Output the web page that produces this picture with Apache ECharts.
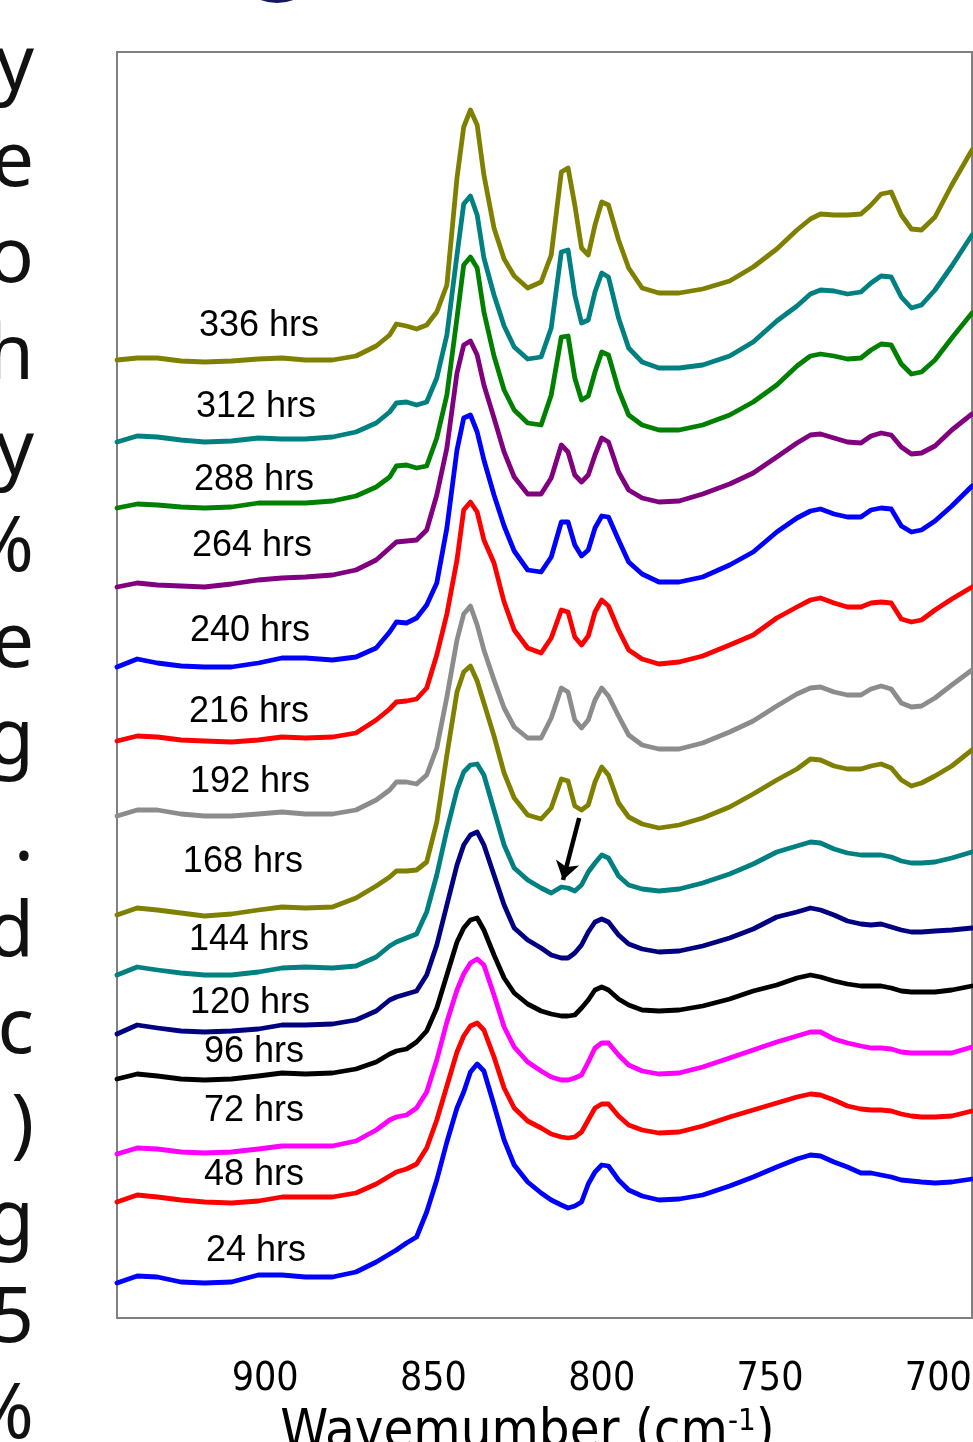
<!DOCTYPE html>
<html>
<head>
<meta charset="utf-8">
<title>IR spectra vs. time</title>
<script src="https://cdn.jsdelivr.net/npm/echarts@6/dist/echarts.min.js"></script>
<style>
  html, body { margin: 0; padding: 0; background: #ffffff; }
  #chart { width: 973px; height: 1442px; }
</style>
</head>
<body>
<div id="chart"></div>
<script>
// Wavenumber grid (cm-1) shared by every spectrum
const WAVENUMBERS = [944, 938, 932, 925, 918, 910, 902, 895, 888, 880,
  873, 867, 863, 861, 858, 855, 852, 849, 846, 843,
  841, 839, 837, 835, 832, 829, 826, 822, 818, 815,
  812, 810, 808, 806, 804, 802, 800, 798, 795, 792,
  788, 783, 777, 770, 762, 755, 748, 742, 738, 735,
  731, 727, 723, 720, 717, 714, 711, 708, 705, 701,
  696, 690];

// Offset absorbance (mAU, stacked) for each exposure time
const h336 = [958, 960, 960, 957, 956, 957, 959, 960, 958, 958, 962, 972, 983, 994, 992, 989, 993, 1006, 1033, 1140, 1191, 1208, 1193, 1143, 1090, 1059, 1042, 1030, 1036, 1063, 1146, 1150, 1113, 1070, 1063, 1093, 1116, 1113, 1078, 1050, 1030, 1025, 1025, 1029, 1037, 1051, 1069, 1088, 1099, 1104, 1103, 1103, 1104, 1113, 1124, 1126, 1103, 1089, 1088, 1101, 1133, 1168];
const h312 = [876, 882, 881, 878, 876, 877, 880, 879, 879, 881, 886, 895, 906, 915, 916, 913, 916, 940, 983, 1063, 1114, 1122, 1103, 1060, 1023, 992, 971, 959, 961, 990, 1066, 1068, 1023, 995, 998, 1026, 1045, 1041, 1000, 970, 956, 950, 950, 953, 962, 976, 997, 1012, 1024, 1028, 1027, 1024, 1026, 1035, 1042, 1041, 1021, 1010, 1013, 1028, 1052, 1083];
const h288 = [810, 814, 813, 811, 810, 811, 815, 815, 815, 817, 822, 831, 841, 852, 853, 850, 852, 880, 923, 1000, 1053, 1061, 1050, 1006, 962, 928, 908, 895, 893, 923, 981, 982, 940, 918, 922, 946, 966, 963, 928, 903, 893, 888, 888, 893, 903, 916, 933, 952, 962, 964, 962, 959, 960, 968, 974, 973, 954, 944, 946, 958, 980, 1005];
const h264 = [731, 735, 733, 732, 731, 734, 738, 740, 741, 743, 748, 758, 770, 776, 777, 778, 788, 823, 870, 945, 973, 977, 963, 933, 900, 866, 841, 824, 824, 840, 873, 866, 843, 836, 843, 863, 880, 876, 846, 828, 820, 816, 817, 824, 834, 845, 861, 875, 883, 884, 880, 876, 875, 882, 885, 883, 871, 864, 865, 872, 888, 904];
const h240 = [651, 659, 655, 652, 651, 651, 655, 660, 660, 658, 661, 670, 686, 696, 695, 700, 713, 735, 790, 868, 900, 903, 886, 858, 823, 792, 767, 748, 746, 761, 796, 796, 773, 762, 768, 790, 802, 801, 778, 756, 744, 736, 736, 741, 753, 766, 786, 800, 807, 809, 804, 801, 801, 808, 810, 809, 792, 786, 788, 797, 812, 832];
const h216 = [577, 582, 581, 578, 577, 576, 578, 581, 580, 581, 585, 598, 609, 616, 617, 619, 630, 663, 704, 758, 808, 816, 806, 778, 755, 716, 688, 670, 665, 680, 708, 706, 681, 673, 682, 706, 718, 712, 688, 668, 659, 654, 656, 662, 673, 683, 700, 711, 718, 720, 715, 711, 711, 715, 716, 715, 699, 696, 698, 708, 719, 731];
const h192 = [502, 508, 508, 504, 502, 502, 504, 506, 504, 504, 508, 518, 528, 536, 536, 534, 543, 570, 621, 678, 704, 712, 693, 668, 638, 610, 591, 580, 580, 600, 630, 626, 598, 590, 598, 618, 630, 622, 602, 583, 573, 569, 569, 575, 586, 597, 612, 624, 630, 631, 626, 623, 623, 629, 632, 629, 615, 611, 612, 620, 633, 648];
const h168 = [403, 410, 408, 405, 402, 404, 408, 411, 410, 411, 420, 432, 441, 447, 447, 448, 456, 496, 563, 626, 646, 652, 637, 615, 582, 545, 520, 503, 499, 510, 539, 537, 512, 508, 513, 536, 551, 543, 515, 501, 494, 490, 493, 500, 511, 524, 538, 549, 559, 558, 552, 549, 549, 552, 554, 550, 538, 532, 535, 542, 552, 568];
const h144 = [343, 351, 348, 345, 343, 343, 346, 350, 351, 350, 352, 361, 372, 376, 380, 384, 406, 443, 488, 528, 546, 553, 554, 543, 508, 473, 450, 438, 430, 425, 431, 430, 427, 433, 446, 455, 463, 460, 442, 433, 429, 427, 429, 435, 444, 454, 466, 472, 476, 475, 469, 465, 463, 463, 463, 461, 457, 455, 455, 456, 460, 466];
const h120 = [284, 293, 290, 287, 286, 287, 289, 293, 293, 294, 298, 307, 318, 321, 324, 327, 343, 373, 413, 453, 473, 483, 486, 473, 443, 413, 390, 378, 370, 363, 360, 360, 365, 373, 386, 396, 399, 396, 383, 374, 369, 366, 367, 372, 380, 389, 401, 406, 410, 408, 403, 397, 394, 393, 394, 391, 388, 386, 386, 387, 388, 390];
const h96 = [239, 244, 242, 239, 238, 239, 242, 245, 244, 245, 249, 256, 264, 267, 269, 276, 287, 310, 343, 376, 390, 398, 400, 388, 363, 340, 325, 314, 307, 304, 302, 302, 303, 310, 318, 328, 331, 328, 319, 313, 308, 307, 308, 312, 319, 327, 333, 340, 343, 341, 337, 334, 332, 332, 332, 330, 327, 326, 326, 326, 328, 332];
const h72 = [164, 170, 169, 166, 165, 166, 169, 172, 172, 172, 177, 188, 198, 201, 203, 210, 226, 258, 296, 328, 344, 355, 359, 353, 323, 291, 271, 256, 247, 241, 238, 238, 240, 243, 256, 270, 275, 275, 263, 253, 247, 244, 245, 251, 260, 268, 276, 282, 286, 286, 279, 275, 272, 270, 270, 269, 266, 265, 265, 265, 265, 271];
const h48 = [116, 123, 121, 118, 116, 115, 117, 121, 121, 121, 125, 134, 142, 146, 149, 154, 170, 198, 232, 266, 282, 292, 295, 288, 261, 230, 210, 197, 190, 184, 181, 180, 181, 186, 198, 210, 214, 214, 202, 193, 188, 185, 186, 192, 201, 208, 215, 221, 224, 223, 218, 212, 209, 208, 208, 207, 204, 202, 201, 201, 202, 207];
const h24 = [35, 42, 41, 36, 35, 36, 43, 43, 41, 41, 46, 56, 64, 68, 75, 81, 106, 138, 176, 210, 226, 246, 254, 247, 213, 178, 153, 136, 125, 118, 113, 110, 112, 116, 134, 146, 153, 152, 138, 128, 122, 118, 119, 123, 132, 141, 151, 159, 163, 162, 156, 151, 145, 145, 143, 141, 138, 137, 136, 135, 136, 139];

const SPECTRA = [h336, h312, h288, h264, h240, h216, h192, h168, h144, h120, h96, h72, h48, h24];
const TIME_LABELS = ['336 hrs', '312 hrs', '288 hrs', '264 hrs', '240 hrs', '216 hrs', '192 hrs',
  '168 hrs', '144 hrs', '120 hrs', '96 hrs', '72 hrs', '48 hrs', '24 hrs'];
const X_TICKS = [900, 850, 800, 750, 700];

// Styling and placement (kept apart from the data)
const LINE_COLORS = ['#808000', '#008080', '#008000', '#800080', '#0000ff', '#ff0000', '#8c8c8c',
  '#808000', '#008080', '#000080', '#000000', '#ff00ff', '#ff0000', '#0000ff'];
const LABEL_ANCHORS = [[901.8, 992], [902.7, 911], [903.3, 838], [903.9, 772], [904.5, 687],
  [904.8, 606], [904.5, 536], [906.6, 456], [904.8, 378], [904.5, 315], [903.3, 266],
  [903.3, 207], [903.3, 143], [902.7, 67]];
// Arrow pointing at the weak 810 cm-1 band in the 144 hrs spectrum
const ARROW_FROM = [806.7, 500];
const ARROW_TO = [811.5, 438];

// Line-end characters of the neighbouring text column
const SIDE_TEXT = ['y', 'e', 'o', 'h', 'y', '%', 'e', 'g', '.', 'd', 'c', ')', 'g', '5', '%'];

const NARROW = "'Liberation Sans Narrow', 'Arial Narrow', 'DejaVu Sans Condensed', sans-serif";
const SANS = "'Liberation Sans', Arial, sans-serif";

const chart = echarts.init(document.getElementById('chart'), null, { renderer: 'canvas' });

const series = SPECTRA.map((values, i) => {
  const s = {
    name: TIME_LABELS[i],
    type: 'line',
    data: WAVENUMBERS.map((w, j) => [w, values[j]]),
    showSymbol: false,
    smooth: false,
    silent: true,
    lineStyle: { width: 4.8, color: LINE_COLORS[i], join: 'round', cap: 'round' },
    itemStyle: { color: LINE_COLORS[i] },
    markPoint: {
      symbol: 'circle',
      symbolSize: 0,
      silent: true,
      data: [{ coord: LABEL_ANCHORS[i] }],
      label: {
        show: true,
        position: 'inside',
        formatter: TIME_LABELS[i],
        fontSize: 36,
        color: '#000000',
        fontFamily: SANS
      }
    }
  };
  if (TIME_LABELS[i] === '144 hrs') {
    s.markLine = {
      silent: true,
      symbol: ['none', 'arrow'],
      symbolSize: 18,
      label: { show: false },
      lineStyle: { color: '#000000', width: 4.5, type: 'solid' },
      data: [[{ coord: ARROW_FROM }, { coord: ARROW_TO }]]
    };
  }
  return s;
});

const firstBaseline = 95;
const lineStep = 96.3;
const graphics = SIDE_TEXT.map((ch, k) => ({
  type: 'text',
  silent: true,
  style: {
    text: ch,
    x: 34,
    y: firstBaseline + k * lineStep - 27,
    font: "76px 'Noto Sans', 'Open Sans', sans-serif",
    fill: '#111111',
    textAlign: 'right',
    textVerticalAlign: 'middle'
  }
}));
graphics.push({
  type: 'circle',
  silent: true,
  shape: { cx: 277, cy: -44, r: 47 },
  style: { fill: '#16165e' }
});

chart.setOption({
  animation: false,
  backgroundColor: '#ffffff',
  grid: {
    left: 117, right: 1, top: 52, bottom: 124,
    show: true,
    borderColor: '#808080',
    borderWidth: 2,
    containLabel: false,
    outerBoundsMode: 'none'
  },
  xAxis: {
    type: 'value',
    inverse: true,
    min: 690,
    max: 944,
    axisLine: { show: false },
    axisTick: { show: false },
    splitLine: { show: false },
    axisLabel: {
      customValues: X_TICKS,
      fontSize: 39,
      color: '#000000',
      fontFamily: NARROW,
      margin: 42
    },
    name: '{t|Wavemumber (cm}{s|-1}{t|)}',
    nameLocation: 'middle',
    nameGap: 88,
    nameTextStyle: {
      padding: [0, 34, 0, 0],
      rich: {
        t: { fontSize: 54, fontFamily: NARROW, color: '#000000' },
        s: { fontSize: 31, fontFamily: NARROW, color: '#000000', verticalAlign: 'top' }
      }
    }
  },
  yAxis: {
    type: 'value',
    name: 'Absorbance (offset)',
    min: 0,
    max: 1266,
    show: false
  },
  series: series,
  graphic: graphics
});
</script>
</body>
</html>
